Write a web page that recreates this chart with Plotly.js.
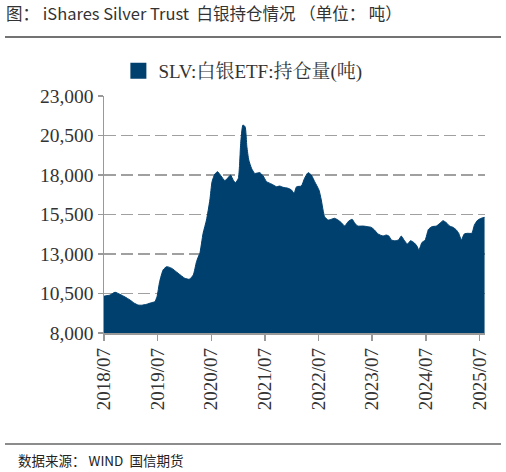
<!DOCTYPE html>
<html>
<head>
<meta charset="utf-8">
<script src="https://cdn.plot.ly/plotly-3.0.1.min.js"></script>
<style>
html,body{margin:0;padding:0;background:#fff;}
#chart{width:506px;height:472px;}
</style>
</head>
<body>
<div id="chart"></div>
<script>
const dates = [
'2018-07-01','2018-07-05','2018-08-10','2018-09-14','2018-10-17','2018-11-21','2018-12-25',
'2019-01-21','2019-02-18','2019-03-15','2019-04-16','2019-05-20','2019-06-12','2019-06-27',
'2019-07-15','2019-08-08','2019-09-01','2019-10-04','2019-11-18','2020-01-03','2020-02-02',
'2020-02-29','2020-03-22','2020-04-09','2020-04-14','2020-05-06','2020-05-29','2020-06-21',
'2020-07-06','2020-07-25','2020-08-13','2020-09-05','2020-10-01','2020-10-19','2020-11-09',
'2020-11-27','2020-12-13','2021-01-01','2021-01-09','2021-01-17','2021-02-01','2021-02-16',
'2021-02-28','2021-03-13','2021-04-01','2021-04-23','2021-05-27','2021-06-19','2021-07-12',
'2021-08-15','2021-09-18','2021-10-10','2021-11-02','2021-12-06','2021-12-29','2022-01-15',
'2022-02-02','2022-03-06','2022-03-28','2022-04-21','2022-05-13','2022-06-05','2022-07-04',
'2022-07-20','2022-08-01','2022-08-12','2022-09-04','2022-09-27','2022-10-19','2022-11-11',
'2022-12-04','2022-12-27','2023-01-19','2023-02-15','2023-03-03','2023-03-25','2023-04-29',
'2023-06-02','2023-06-25','2023-07-17','2023-08-10','2023-09-13','2023-10-05','2023-10-23',
'2023-11-09','2023-12-01','2023-12-28','2024-01-16','2024-02-03','2024-02-26','2024-03-19',
'2024-04-11','2024-05-01','2024-05-15','2024-06-04','2024-06-27','2024-07-19','2024-08-11',
'2024-09-11','2024-10-04','2024-10-26','2024-11-18','2024-12-10','2025-01-02','2025-01-25',
'2025-02-10','2025-02-28','2025-03-20','2025-04-13','2025-05-10','2025-05-28','2025-06-20',
'2025-07-13','2025-08-05'
];
const holdings = [
10340,10340,10400,10580,10450,10280,10090,
9900,9770,9760,9815,9920,9980,10300,
11250,12000,12200,12100,11780,11460,11400,
11670,12510,12950,13040,14310,15150,16420,
17580,18060,18210,17940,17640,17790,18000,
17680,17510,17790,18600,20000,21160,21060,
19800,18950,18420,18100,18150,17940,17580,
17430,17260,17300,17220,17160,17050,16840,
17260,17300,17790,18150,18000,17580,17050,
16420,15780,15360,15150,15200,15260,15150,
14980,14770,15050,15200,14980,14770,14770,
14730,14690,14520,14270,14140,14200,14140,
13890,13840,13890,14140,13890,13630,13840,
13720,13510,13250,13720,13890,14560,14730,
14770,14940,15110,14980,14770,14690,14520,
14310,13890,14270,14310,14310,14840,15150,
15260,15320
];
const tickDates = ['2018-07-01','2019-07-01','2020-07-01','2021-07-01','2022-07-01','2023-07-01','2024-07-01','2025-07-01'];
const tickLabels = ['2018/07','2019/07','2020/07','2021/07','2022/07','2023/07','2024/07','2025/07'];
const yTicks = [8000,10500,13000,15500,18000,20500,23000];
const yTickLabels = ['8,000','10,500','13,000','15,500','18,000','20,500','23,000'];
const seriesName = 'SLV:白银ETF:持仓量(吨)';

const fillColor = '#00406f';
const serif = 'Liberation Serif, Noto Serif CJK SC, Noto Sans CJK SC, serif';
const cjk = 'Noto Sans CJK SC, Noto Sans, sans-serif';

const traces = [
  {x: dates, y: holdings, type:'scatter', mode:'lines', fill:'tozeroy',
   fillcolor: fillColor, line:{color: fillColor, width:1, shape:'spline', smoothing:0.5},
   showlegend:false, hoverinfo:'skip'},
  {x:[null], y:[null], type:'scatter', mode:'markers', name: seriesName,
   marker:{symbol:'square', size:16, color: fillColor}}
];

const layout = {
  width:506, height:472,
  margin:{l:104, r:21, t:96, b:139},
  paper_bgcolor:'#fff', plot_bgcolor:'#fff',
  title:{text:'图： iShares Silver Trust  白银持仓情况 （单位： 吨）',
         x:0.012, xanchor:'left', xref:'container', y:0.97, yanchor:'middle', yref:'container',
         font:{family:cjk, size:16.5, color:'#333'}},
  showlegend:true,
  legend:{orientation:'h', x:0.48, xanchor:'center', xref:'container', y:1-71/472, yanchor:'middle', yref:'container',
          font:{family:serif, size:19, color:'#333'}, itemwidth:30},
  xaxis:{type:'date', range:['2018-07-01','2025-08-08'], tickvals: tickDates, ticktext: tickLabels,
         tickangle:-90, tickfont:{family:serif, size:19, color:'#333'},
         showgrid:false, showline:true, linecolor:'#999', linewidth:1.5,
         ticks:'outside', ticklen:6, tickcolor:'#999', tickwidth:1.5, zeroline:false},
  yaxis:{range:[8000,23000], tickvals: yTicks, ticktext: yTickLabels,
         tickfont:{family:serif, size:19.5, color:'#333'},
         showgrid:true, gridcolor:'#a0a0a0', gridwidth:1.5, griddash:'12px,5px',
         showline:true, linecolor:'#999', linewidth:1.5,
         ticks:'outside', ticklen:5, tickcolor:'#999', tickwidth:1.5, zeroline:false},
  shapes:[
    {type:'line', xref:'paper', yref:'paper', x0:(5-104)/381, x1:(501-104)/381, y0:(333-37)/237, y1:(333-37)/237,
     line:{color:'#444', width:1.5}},
    {type:'line', xref:'paper', yref:'paper', x0:(5-104)/381, x1:(501-104)/381, y0:(333-444)/237, y1:(333-444)/237,
     line:{color:'#666', width:1.5}}
  ],
  annotations:[
    {text:'数据来源： WIND  国信期货', xref:'paper', yref:'paper', x:(16-104)/381, y:(333-460)/237,
     xanchor:'left', yanchor:'middle', showarrow:false, font:{family:cjk, size:13.5, color:'#222'}}
  ]
};
Plotly.newPlot('chart', traces, layout, {displayModeBar:false, staticPlot:true});
</script>
</body>
</html>
